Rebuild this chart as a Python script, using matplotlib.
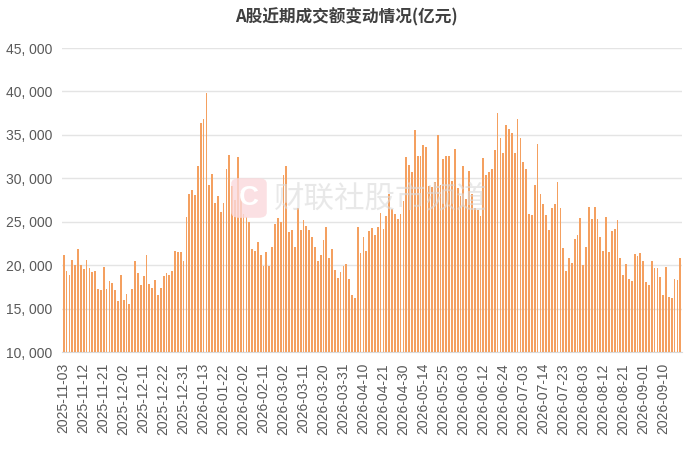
import matplotlib
matplotlib.use("Agg")
import matplotlib.pyplot as plt
from matplotlib.ticker import FuncFormatter, MultipleLocator
from matplotlib.patches import FancyBboxPatch
import numpy as np

plt.rcParams['font.family'] = ['Liberation Sans', 'Noto Sans CJK SC', 'DejaVu Sans']

title = "A股近期成交额变动情况(亿元)"

tick_labels = [
    "2025-11-03", "2025-11-12", "2025-11-21", "2025-12-02", "2025-12-11",
    "2025-12-22", "2025-12-31", "2026-01-13", "2026-01-22", "2026-02-02",
    "2026-02-11", "2026-03-02", "2026-03-11", "2026-03-20", "2026-03-31",
    "2026-04-10", "2026-04-21", "2026-04-30", "2026-05-14", "2026-05-25",
    "2026-06-03", "2026-06-12", "2026-06-24", "2026-07-03", "2026-07-14",
    "2026-07-23", "2026-08-03", "2026-08-12", "2026-08-21", "2026-09-01",
    "2026-09-10",
]
tick_step = 7

turnover = [
    21200, 19300, 18850, 20600, 20040, 21850, 20040, 19600, 20540, 19700,
    19230, 19380, 17300, 17100, 19800, 17300, 18200, 17900, 17150, 15900,
    18850, 16000, 16730, 15500, 17300, 20420, 19100,
    17730, 18730, 21115, 17850, 17380, 18270, 16620, 17380, 18730, 19100,
    18880, 19300, 21650, 21460, 21460, 20500, 25580, 28190, 28690, 28115,
    31460, 36380, 36880, 39770, 29270, 30500, 27190,
    27960, 26150, 27110, 31080, 32690, 29080, 27500, 32500, 28460, 25920,
    25580, 24920, 21850, 21580, 22650, 21190, 19920, 21540, 19880, 22040,
    24690, 25420, 25000, 30420, 31420, 23770, 24080,
    22040, 26620, 24080, 25190, 24500, 24040, 23270, 22120, 20500, 21150,
    22920, 24380, 20850, 21850, 19460, 18540, 19230, 19920, 20120, 18420,
    16580, 16190, 24380, 21420, 23270, 21580, 23880, 24230,
    23460, 24420, 25960, 24110, 25650, 28150, 26500, 25920, 25350, 25920,
    27420, 32420, 31580, 30690, 35540, 32580, 32580, 33810, 33620, 29080,
    29000, 29620, 34960, 29230, 32230, 32610, 32540,
    29730, 33350, 28880, 28000, 31460, 27650, 30880, 28150, 26620, 26350,
    25650, 32310, 30380, 30770, 31080, 33270, 37540, 34620, 32960, 36080,
    35650, 35230, 32880, 36810, 34690, 31920, 31080, 25880,
    25770, 29270, 34000, 28230, 27080, 25730, 24080, 26620, 27080, 29620,
    26580, 21960, 19380, 20850, 20270, 23000, 23500, 25460, 20040, 22120,
    26690, 25350, 26690, 25270, 23270, 21580, 25580,
    21500, 23960, 24150, 25230, 20850, 18810, 20150, 18350, 18190, 21310,
    21080, 21420, 20420, 18080, 17690, 20420, 19620, 19650, 18650, 16580,
    19810, 16350, 16190, 18460, 18310, 20850,
]

W, H = 692, 454
fig = plt.figure(figsize=(W / 100, H / 100), dpi=100)
ax = fig.add_axes([62 / W, 1 - 352 / H, (682 - 62) / W, (352 - 48) / H])

x = np.arange(len(turnover))
ax.bar(x, np.array(turnover) - 10000, bottom=10000, width=0.62,
       color='#F4A060', zorder=3)

ax.set_xlim(-0.6, len(turnover) - 0.4)
ax.set_ylim(10000, 45000)
ax.yaxis.set_major_locator(MultipleLocator(5000))
ax.yaxis.set_major_formatter(FuncFormatter(lambda v, p: f"{int(v):,}".replace(",", ", ")))
ax.grid(axis='y', color='#E4E4E4', linewidth=1, zorder=0)
ax.set_axisbelow(True)

ticks = list(range(0, len(tick_labels) * tick_step, tick_step))
ax.set_xticks(ticks)
ax.set_xticklabels(tick_labels, rotation=90, fontsize=10, color='#595959')
ax.tick_params(axis='x', length=0, pad=8)
ax.tick_params(axis='y', length=0, pad=7, labelsize=10, labelcolor='#595959')

for s in ['top', 'right', 'left']:
    ax.spines[s].set_visible(False)
ax.spines['bottom'].set_color('#D9D9D9')

fig.text(0.5, 1 - 17 / H, title, ha='center', va='center', fontsize=12,
         fontweight='bold', color='#404040',
         family=['Noto Sans CJK SC', 'DejaVu Sans'])

# watermark
logo = FancyBboxPatch((234 / W, 1 - 216 / H), 30 / W, 36 / H,
                      boxstyle="round,pad=0.004,rounding_size=0.012",
                      transform=fig.transFigure, facecolor='#FBD9DC',
                      edgecolor='none', alpha=0.8, zorder=5)
fig.patches.append(logo)
fig.text(249 / W, 1 - 198 / H, "C", ha='center', va='center', fontsize=20,
         fontweight='bold', color='white', zorder=6)
fig.text(274 / W, 1 - 199 / H, "财联社股市频道", ha='left', va='center',
         fontsize=22, color='#DADADA', alpha=0.6, zorder=6,
         family=['Noto Sans CJK SC', 'DejaVu Sans'])

fig.savefig("out.png", dpi=100)
